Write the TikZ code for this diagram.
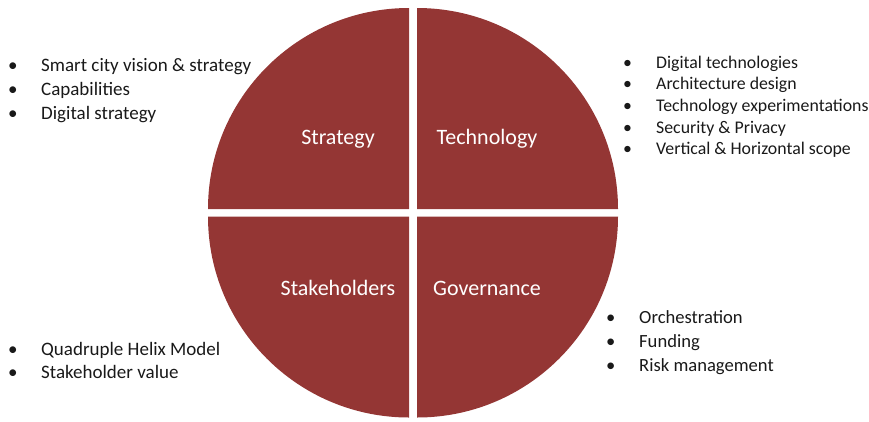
\documentclass[tikz,border=0pt]{standalone}
\usepackage{fontspec}
\setmainfont{Carlito}
\definecolor{quadred}{HTML}{943634}
\tikzset{
  quad/.style={fill=quadred},
  quadlabel/.style={text=white, font=\fontsize{22}{26}\selectfont},
  bulletlist/.style={anchor=base west, inner sep=0pt, text=black!90}
}
\newcommand{\bulletrows}[3]{\fontsize{#1}{#2}\selectfont\begin{tabular}[t]{@{}p{33pt}@{}l@{}}#3\end{tabular}}

\begin{document}
\begin{tikzpicture}[x=1pt,y=-1pt]
\useasboundingbox (0,0) rectangle (869,421);

\fill[quad] (409,209) -- ++(-201pt,0pt) arc[start angle=180, end angle=90, radius=201pt] -- cycle;
\fill[quad] (417,209) -- ++(0pt,201pt) arc[start angle=90, end angle=0, radius=201pt] -- cycle;
\fill[quad] (417,216.5) -- ++(201pt,0pt) arc[start angle=0, end angle=-90, radius=201pt] -- cycle;
\fill[quad] (409,216.5) -- ++(0pt,-201pt) arc[start angle=270, end angle=180, radius=201pt] -- cycle;

\node[quadlabel] (strategy) at (338,139) {Strategy};
\node[quadlabel] (technology) at (487,139) {Technology};
\node[quadlabel] (stakeholders) at (338,288) {Stakeholders};
\node[quadlabel] (governance) at (487,288) {Governance};

\node[bulletlist] (strategylist) at (8,71) {\bulletrows{19}{24}{
  \textbullet & Smart city vision \& strategy\\
  \textbullet & Capabilities\\
  \textbullet & Digital strategy}};
\node[bulletlist] (technologylist) at (623,68) {\bulletrows{17.8}{21.7}{
  \textbullet & Digital technologies\\
  \textbullet & Architecture design\\
  \textbullet & Technology experimentations\\
  \textbullet & Security \& Privacy\\
  \textbullet & Vertical \& Horizontal scope}};
\node[bulletlist] (stakeholderslist) at (8,355) {\bulletrows{19}{23}{
  \textbullet & Quadruple Helix Model\\
  \textbullet & Stakeholder value}};
\node[bulletlist] (governancelist) at (606,323) {\bulletrows{18.6}{24}{
  \textbullet & Orchestration\\
  \textbullet & Funding\\
  \textbullet & Risk management}};
\end{tikzpicture}
\end{document}
